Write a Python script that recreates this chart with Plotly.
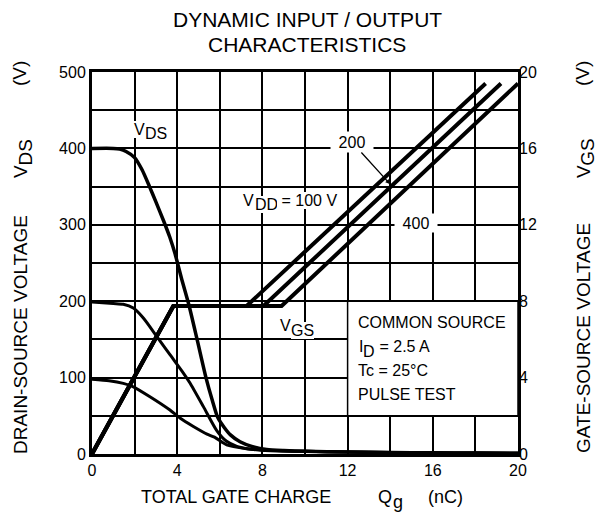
import plotly.graph_objects as go

# ---- data ----
q_vds_400 = [0, 1.0, 1.3, 1.6, 2.0, 2.35, 2.7, 3.0, 3.35, 3.65, 3.9, 4.2, 4.55, 4.95, 5.35, 5.65, 5.9, 6.2, 6.5, 6.95, 7.5, 8.2, 9, 10, 12, 14, 16, 18, 20]
v_vds_400 = [400, 400, 399, 396, 388, 372, 350, 330, 306, 284, 262, 230, 195, 148, 100, 70, 48, 35, 25, 16, 10, 6, 4.5, 3.5, 2.5, 2, 1.6, 1.3, 1]

q_vds_200 = [0, 1.0, 1.47, 1.94, 2.41, 3.04, 3.66, 4.29, 4.6, 5.23, 5.85, 6.3, 6.8, 7.3, 8, 9, 10, 12, 14, 16, 18, 20]
v_vds_200 = [199, 197, 196, 191, 178, 154, 130, 106, 93, 62, 31, 17, 10, 7, 5, 4, 3.5, 2.5, 2, 1.6, 1.3, 1]

q_vds_100 = [0, 0.8, 1.47, 1.94, 2.72, 3.66, 4.13, 4.76, 5.4, 5.75, 6.32, 7.26, 8, 9, 10, 12, 14, 16, 18, 20]
v_vds_100 = [98, 96, 92.5, 88, 75, 57.6, 47, 36, 26, 22, 12, 7, 5, 4, 3.5, 2.5, 2, 1.6, 1.3, 1]

q_vgs_100 = [0, 3.82, 7.26, 18.48]
v_vgs_100 = [0, 7.75, 7.75, 19.4]
q_vgs_200 = [0, 3.82, 8.05, 19.2]
v_vgs_200 = [0, 7.75, 7.75, 19.4]
q_vgs_400 = [0, 3.82, 8.9, 20.0]
v_vgs_400 = [0, 7.75, 7.75, 19.4]

x_ticks = [0, 4, 8, 12, 16, 20]
y_ticks = [0, 100, 200, 300, 400, 500]
y2_ticks = [0, 4, 8, 12, 16, 20]

FONT = "Liberation Sans, Arial, sans-serif"
BLK = "black"

fig = go.Figure()
for q, v, w in [(q_vds_400, v_vds_400, 3.5), (q_vds_200, v_vds_200, 3), (q_vds_100, v_vds_100, 3)]:
    fig.add_trace(go.Scatter(x=q, y=v, mode="lines", line=dict(color=BLK, width=w, shape="spline", smoothing=0.6),
                             showlegend=False, hoverinfo="skip"))
for q, v in [(q_vgs_100, v_vgs_100), (q_vgs_200, v_vgs_200), (q_vgs_400, v_vgs_400)]:
    fig.add_trace(go.Scatter(x=q, y=v, yaxis="y2", mode="lines", line=dict(color=BLK, width=4),
                             showlegend=False, hoverinfo="skip"))

axis_common = dict(showline=True, linecolor=BLK, linewidth=3, mirror=True, zeroline=False,
                   showgrid=True, gridcolor=BLK, gridwidth=2, ticks="",
                   tickfont=dict(family=FONT, size=16, color=BLK), fixedrange=True)

# page body has an 8px margin, so the figure is 8px smaller each way
fig.update_layout(
    width=600, height=517,
    margin=dict(l=84, r=90, t=64, b=71, autoexpand=False),
    paper_bgcolor="white", plot_bgcolor="white",
    font=dict(family=FONT, size=16, color=BLK),
    xaxis=dict(range=[0, 20], tickvals=x_ticks, ticktext=[str(t) for t in x_ticks],
               minor=dict(dtick=2, tick0=0, showgrid=True, gridcolor=BLK, gridwidth=1.5),
               **axis_common),
    yaxis=dict(range=[0, 500], tickvals=y_ticks, ticktext=[str(t) for t in y_ticks],
               minor=dict(dtick=50, tick0=0, showgrid=True, gridcolor=BLK, gridwidth=1.5),
               **axis_common),
    yaxis2=dict(range=[0, 20], overlaying="y", side="right", tickvals=y2_ticks,
                ticktext=[str(t) for t in y2_ticks], showgrid=False, showline=False, zeroline=False,
                ticks="", tickfont=dict(family=FONT, size=16, color=BLK), fixedrange=True),
)

# info box
fig.add_shape(type="rect", xref="x", yref="y", x0=12, x1=20, y0=50, y1=200,
              fillcolor="white", line=dict(color=BLK, width=1.5), layer="above")


def px_x(X):
    return (X - 92) / 426.0


def px_y(Y):
    return (454 - Y) / 382.0


def P(X, Y, text, size, angle=0, bg=None, xanchor="center"):
    d = dict(x=px_x(X), y=px_y(Y), xref="paper", yref="paper", showarrow=False, text=text,
             textangle=angle, xanchor=xanchor, yanchor="middle", borderpad=0, borderwidth=0,
             font=dict(family=FONT, size=size, color=BLK))
    if bg:
        d["bgcolor"] = bg
    fig.add_annotation(**d)


# info box texts
P(358, 322, "COMMON SOURCE", 16, xanchor="left")
P(360.5, 346.5, "I", 16)
P(368.5, 351, "D", 16)
P(402, 346.5, " = 2.5 A", 16)
P(358, 370, "Tc = 25°C", 16, xanchor="left")
P(358, 394, "PULSE TEST", 16, xanchor="left")

# curve labels (white background cuts the grid lines)
P(139, 129, "V", 16, bg="white")
P(155.5, 133.5, "DS", 16, bg="white")

P(248.3, 200.5, "V", 16, bg="white")
P(266.6, 204.5, "DD", 16, bg="white")
P(307, 200.5, " = 100 V", 16, bg="white")

P(285.3, 325.5, "V", 16, bg="white")
P(302.2, 330, "GS", 16, bg="white")

fig.add_annotation(x=15.23, y=303, xref="x", yref="y", text="400", showarrow=False,
                   bgcolor="white", width=40, height=16, font=dict(family=FONT, size=16, color=BLK))
fig.add_annotation(x=13.99, y=353.4, xref="x", yref="y", ax=12.2, ay=408.4, axref="x", ayref="y",
                   text="200", showarrow=True, arrowhead=2, arrowsize=0.7, arrowwidth=1.3,
                   arrowcolor=BLK, bgcolor="white", width=40, height=18,
                   font=dict(family=FONT, size=16, color=BLK))

# chart title
P(307, 20, "DYNAMIC INPUT / OUTPUT", 21)
P(307, 45, "CHARACTERISTICS", 21)

# x-axis title
P(236, 497, "TOTAL GATE CHARGE", 18)
P(385, 497, "Q", 18)
P(397.5, 502, "g", 18)
P(445, 497, "(nC)", 18)

# left axis title
P(20, 335, "DRAIN-SOURCE VOLTAGE", 19, -90)
P(20, 172, "V", 19, -90)
P(24.5, 153, "DS", 19, -90)
P(20, 74, "(V)", 19, -90)

# right axis title
P(583, 338, "GATE-SOURCE VOLTAGE", 19, -90)
P(583, 172, "V", 19, -90)
P(587.5, 152.3, "GS", 19, -90)
P(583, 74, "(V)", 19, -90)

fig.write_html("out.html")
